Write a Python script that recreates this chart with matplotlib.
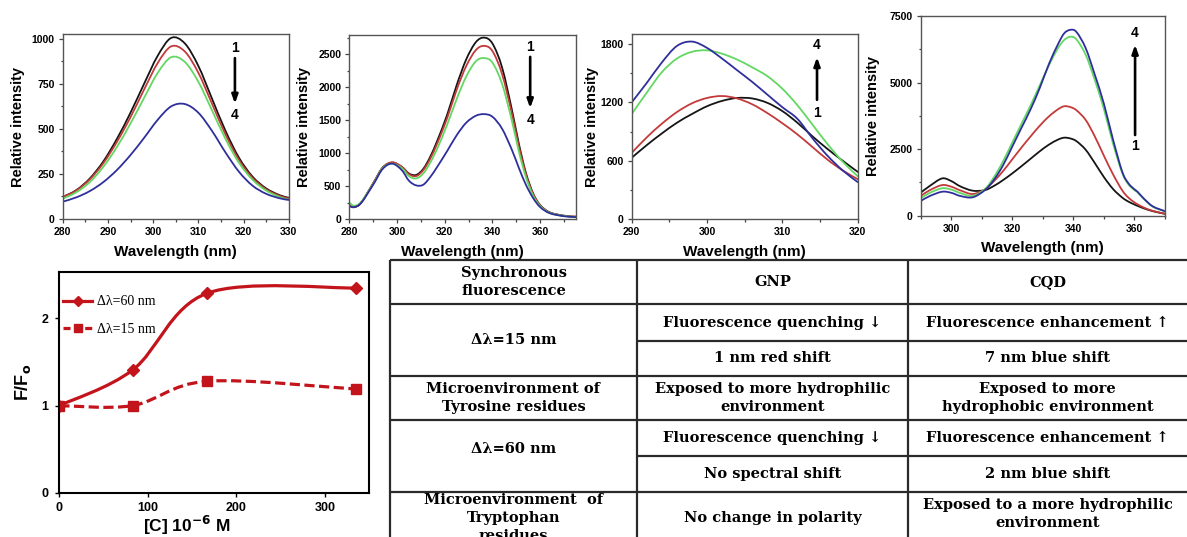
import numpy as np
import matplotlib
matplotlib.use("Agg")
import matplotlib.pyplot as plt
from matplotlib.path import Path
from matplotlib.patches import PathPatch
from matplotlib.lines import Line2D
from matplotlib.ticker import MultipleLocator

# ---------------- data ----------------
# Panel A: delta-lambda = 15 nm, GNP titration (curves 1 -> 4)
wl_a = [280, 283, 286, 289, 292, 295, 298, 301, 304, 307, 310, 313, 316, 319, 322, 325, 328, 330]
a1 = [122, 160, 225, 320, 445, 590, 750, 905, 1005, 975, 850, 670, 490, 340, 235, 170, 132, 118]
a2 = [122, 158, 220, 310, 428, 565, 718, 865, 958, 930, 812, 642, 470, 328, 228, 165, 128, 114]
a3 = [112, 148, 205, 290, 400, 530, 672, 810, 898, 872, 762, 605, 445, 312, 218, 158, 122, 108]
a4 = [96, 120, 155, 205, 272, 355, 450, 550, 625, 638, 590, 490, 370, 262, 185, 140, 115, 106]

# Panel B: delta-lambda = 60 nm, GNP titration
wl_b = [280, 282, 285, 290, 294, 298, 302, 305, 308, 311, 314, 317, 321, 325, 329, 333,
        336.5, 340, 344, 348, 351, 354, 357, 360, 364, 370, 375]
b1 = [212, 180, 250, 540, 780, 855, 790, 690, 668, 760, 950, 1200, 1580, 2030, 2420, 2680,
      2750, 2660, 2300, 1680, 1150, 700, 390, 210, 100, 50, 35]
b2 = [212, 180, 250, 540, 780, 860, 790, 680, 650, 740, 920, 1160, 1530, 1960, 2320, 2560,
      2625, 2545, 2200, 1620, 1110, 680, 380, 205, 98, 48, 35]
b3 = [250, 200, 260, 530, 770, 840, 770, 650, 615, 690, 860, 1080, 1430, 1820, 2160, 2390,
      2440, 2370, 2050, 1510, 1030, 635, 355, 195, 92, 45, 30]
b4 = [195, 180, 245, 520, 760, 840, 740, 580, 510, 520, 640, 800, 1030, 1270, 1460, 1565,
      1590, 1550, 1370, 1060, 780, 520, 320, 180, 88, 42, 30]

# Panel C: delta-lambda = 15 nm, CQD titration
wl_c = [290, 292, 294, 296, 298, 300, 302, 304, 306, 308, 310, 312, 314, 316, 318, 320]
c1 = [630, 760, 880, 990, 1080, 1160, 1215, 1245, 1240, 1195, 1110, 990, 850, 720, 600, 485]
c2 = [680, 840, 980, 1100, 1190, 1245, 1265, 1240, 1180, 1090, 985, 870, 740, 610, 500, 410]
c3 = [1080, 1300, 1510, 1650, 1720, 1735, 1700, 1640, 1560, 1470, 1340, 1170, 970, 770, 590, 440]
c4 = [1200, 1400, 1610, 1780, 1825, 1760, 1650, 1530, 1410, 1280, 1150, 1030, 830, 650, 500, 380]

# Panel D: delta-lambda = 60 nm, CQD titration
wl_d = [290, 293, 297, 300, 303, 307, 311, 314, 317, 320, 323, 326, 329, 332, 335, 337, 339,
        341, 344, 347, 350, 353, 356, 358, 360, 361, 363, 366, 370]
d1 = [864, 1120, 1400, 1300, 1100, 940, 960, 1120, 1340, 1590, 1860, 2140, 2420, 2670, 2860,
      2930, 2900, 2800, 2480, 1980, 1450, 1000, 680, 530, 420, 370, 280, 170, 70]
d2 = [740, 960, 1150, 1090, 950, 815, 990, 1300, 1680, 2120, 2560, 2980, 3380, 3730, 4000,
      4110, 4080, 3960, 3600, 2980, 2250, 1550, 950, 680, 500, 430, 310, 180, 75]
d3 = [653, 860, 1030, 980, 850, 740, 1000, 1450, 2050, 2750, 3450, 4150, 4900, 5650, 6300,
      6600, 6720, 6620, 6050, 5100, 4000, 2700, 1600, 1180, 960, 880, 640, 340, 160]
d4 = [552, 740, 900, 860, 740, 691, 960, 1350, 1900, 2600, 3300, 4000, 4800, 5700, 6450,
      6850, 6980, 6900, 6300, 5300, 4200, 2850, 1650, 1220, 990, 900, 650, 350, 170]

# F/F0 versus concentration
conc = [0, 83, 167, 335]
ratio_60 = [1.00, 1.41, 2.29, 2.35]
ratio_15 = [1.00, 1.00, 1.28, 1.19]
series_labels = ["\u0394\u03bb=60 nm", "\u0394\u03bb=15 nm"]

# Summary table
table_header = ["Synchronous\nfluorescence", "GNP", "CQD"]
row_15_label = "\u0394\u03bb=15 nm"
row_15_gnp = ["Fluorescence quenching \u2193", "1 nm red shift"]
row_15_cqd = ["Fluorescence enhancement \u2191", "7 nm blue shift"]
row_tyr = ["Microenvironment of\nTyrosine residues",
           "Exposed to more hydrophilic\nenvironment",
           "Exposed to more\nhydrophobic environment"]
row_60_label = "\u0394\u03bb=60 nm"
row_60_gnp = ["Fluorescence quenching \u2193", "No spectral shift"]
row_60_cqd = ["Fluorescence enhancement \u2191", "2 nm blue shift"]
row_trp = ["Microenvironment  of\nTryptophan\nresidues",
           "No change in polarity",
           "Exposed to a more hydrophilic\nenvironment"]

# ---------------- helpers ----------------
W, H = 1187, 537
fig = plt.figure(figsize=(W / 100, H / 100), dpi=100)

SANS = "Liberation Sans"
SPEC_COLORS = ["#151515", "#c43a3a", "#62d862", "#2f2f9c"]


def px_axes(l, t, r, b):
    return fig.add_axes([l / W, 1 - b / H, (r - l) / W, (b - t) / H])


def smooth_path(x, y):
    pts = np.column_stack([np.asarray(x, float), np.asarray(y, float)])
    ext = np.vstack([pts[0], pts, pts[-1]])
    verts = [pts[0]]
    codes = [Path.MOVETO]
    for i in range(len(pts) - 1):
        p0, p1, p2, p3 = ext[i], ext[i + 1], ext[i + 2], ext[i + 3]
        verts += [p1 + (p2 - p0) / 6.0, p2 - (p3 - p1) / 6.0, p2]
        codes += [Path.CURVE4] * 3
    return Path(verts, codes)


def style_axes(ax, xmaj, xmin, ymaj, ymin, lsize=7.5):
    ax.xaxis.set_major_locator(MultipleLocator(xmaj))
    ax.xaxis.set_minor_locator(MultipleLocator(xmin))
    ax.yaxis.set_major_locator(MultipleLocator(ymaj))
    ax.yaxis.set_minor_locator(MultipleLocator(ymin))
    ax.tick_params(which="both", direction="out", top=False, right=False,
                   color="#444444", width=0.9)
    ax.tick_params(which="major", length=3.2, pad=2.5)
    ax.tick_params(which="minor", length=1.8)
    for lab in ax.get_xticklabels() + ax.get_yticklabels():
        lab.set_fontfamily(SANS)
        lab.set_fontweight("bold")
        lab.set_fontsize(lsize)
    for sp in ax.spines.values():
        sp.set_color("#555555")
        sp.set_linewidth(1.0)


def spectra_panel(box, wl, curves, xlim, ylim, ticks, ylab_px, xlab_px,
                  arrow_x, labels_y, arrow_y):
    l, t, r, b = box
    ax = px_axes(l, t, r, b)
    for vals, col in zip(curves, SPEC_COLORS):
        ax.add_patch(PathPatch(smooth_path(wl, vals), fc="none", ec=col, lw=1.3,
                               joinstyle="round", capstyle="round"))
    ax.set_xlim(*xlim)
    ax.set_ylim(*ylim)
    style_axes(ax, *ticks)
    ax.set_xlabel("Wavelength (nm)", fontfamily=SANS, fontweight="bold",
                  fontsize=11, va="center")
    ax.set_ylabel("Relative intensity", fontfamily=SANS, fontweight="bold",
                  fontsize=10.5, va="center")
    ax.xaxis.set_label_coords(0.5, -(xlab_px - b) / (b - t))
    ax.yaxis.set_label_coords((ylab_px - l) / (r - l), 0.5)
    # titration direction arrow with curve numbers
    top_lab, bot_lab = labels_y
    ax.text(arrow_x, top_lab[1], top_lab[0], ha="center", va="center",
            fontfamily=SANS, fontweight="bold", fontsize=10)
    ax.text(arrow_x, bot_lab[1], bot_lab[0], ha="center", va="center",
            fontfamily=SANS, fontweight="bold", fontsize=10)
    ax.annotate("", xy=(arrow_x, arrow_y[1]), xytext=(arrow_x, arrow_y[0]),
                arrowprops=dict(arrowstyle="-|>,head_length=0.5,head_width=0.18",
                                lw=1.9, color="black", shrinkA=0, shrinkB=0))
    return ax


# ---------------- spectra ----------------
spectra_panel((62.7, 34.3, 288.7, 219), wl_a, [a1, a2, a3, a4], (280, 330), (0, 1025),
              (10, 5, 250, 125), 18, 252, 318.1, (("1", 948), ("4", 577)), (893, 640))
spectra_panel((349.3, 35, 576, 219), wl_b, [b1, b2, b3, b4], (280, 375), (0, 2790),
              (20, 10, 500, 250), 304, 252, 355.8, (("1", 2615), ("4", 1502)), (2458, 1680))
spectra_panel((631.7, 34.3, 857.7, 219), wl_c, [c1, c2, c3, c4], (290, 320), (0, 1900),
              (10, 5, 600, 300), 592, 252, 314.6, (("4", 1793), ("1", 1092)), (1226, 1665))
spectra_panel((920.7, 16, 1165, 215.7), wl_d, [d1, d2, d3, d4], (290, 370), (0, 7500),
              (20, 10, 2500, 1250), 873, 248, 360.2, (("4", 6861), ("1", 2617)), (3030, 6420))

# ---------------- F/F0 plot ----------------
RED = "#c3141c"
l, t, r, b = 59.3, 272.3, 369.3, 492.7
axf = px_axes(l, t, r, b)
axf.add_patch(PathPatch(smooth_path(conc, ratio_60), fc="none", ec=RED, lw=2.3))
axf.add_patch(PathPatch(smooth_path(conc, ratio_15), fc="none", ec=RED, lw=2.3,
                        linestyle=(0, (3.2, 1.4))))
axf.plot(conc, ratio_60, ls="none", marker="D", ms=6.5, color=RED, mec=RED)
axf.plot(conc, ratio_15, ls="none", marker="s", ms=6.5, color=RED, mec=RED)
axf.set_xlim(0, 350)
axf.set_ylim(0, 2.53)
axf.set_xticks([0, 100, 200, 300])
axf.set_yticks([0, 1, 2])
axf.tick_params(direction="out", length=3, width=1.0, color="black")
axf.tick_params(axis="x", pad=4)
axf.tick_params(axis="y", pad=5)
for lab in axf.get_xticklabels() + axf.get_yticklabels():
    lab.set_fontfamily(["Liberation Sans Narrow", SANS])
    lab.set_fontweight("bold")
    lab.set_fontsize(9)
for sp in axf.spines.values():
    sp.set_color("black")
    sp.set_linewidth(1.5)
axf.set_xlabel("[C] 10$^{\\mathbf{-6}}$ M", fontfamily=SANS, fontweight="bold",
               fontsize=12.5, va="center")
axf.xaxis.set_label_coords((187 - l) / (r - l), -(525 - b) / (b - t))
axf.set_ylabel("F/F$_\\mathbf{o}$", fontfamily=SANS, fontweight="bold",
               fontsize=13, va="center")
axf.yaxis.set_label_coords((23 - l) / (r - l), 0.5)
handles = [Line2D([], [], color=RED, lw=2.3, marker="D", ms=5),
           Line2D([], [], color=RED, lw=2.3, marker="s", ms=5.5, ls=(0, (2.2, 1.2)))]
axf.legend(handles, series_labels, loc="upper left", bbox_to_anchor=(0.012, 0.895),
           frameon=False, prop={"family": "Liberation Serif", "size": 10},
           handlelength=2.1, handletextpad=0.35, labelspacing=1.05,
           borderpad=0, borderaxespad=0)

# ---------------- summary table ----------------
axt = fig.add_axes([385 / W, 0, (W - 385) / W, (H - 255) / H])
axt.set_xlim(385, W)
axt.set_ylim(H, 255)
axt.axis("off")

col_x = [390, 637, 908, W]
row_y = [260, 304.3, 375.7, 420, 491.7, 548]
sub_y = [341, 456]
LC = "#2a2a2a"
for xv in col_x[:3]:
    axt.plot([xv, xv], [row_y[0], H], color=LC, lw=1.6, solid_capstyle="butt")
for yv in row_y[:5]:
    axt.plot([col_x[0], W], [yv, yv], color=LC, lw=1.6, solid_capstyle="butt")
for yv in sub_y:
    axt.plot([col_x[1], W], [yv, yv], color=LC, lw=1.6, solid_capstyle="butt")

TFONT = {"family": ["DejaVu Serif", "DejaVu Sans"], "weight": "bold", "size": 10.5}
PITCH = 17.5


def cell_text(text, col, yc):
    xc = (col_x[col] + col_x[col + 1]) / 2
    lines = text.split("\n")
    n = len(lines)
    for i, ln in enumerate(lines):
        yy = yc + (i - (n - 1) / 2) * PITCH
        axt.text(xc, yy, ln, ha="center", va="center", fontdict=TFONT, clip_on=True)


def mid(a, b):
    return (a + b) / 2

cell_text(table_header[0], 0, mid(row_y[0], row_y[1]))
cell_text(table_header[1], 1, mid(row_y[0], row_y[1]))
cell_text(table_header[2], 2, mid(row_y[0], row_y[1]))

cell_text(row_15_label, 0, mid(row_y[1], row_y[2]))
cell_text(row_15_gnp[0], 1, mid(row_y[1], sub_y[0]))
cell_text(row_15_gnp[1], 1, mid(sub_y[0], row_y[2]))
cell_text(row_15_cqd[0], 2, mid(row_y[1], sub_y[0]))
cell_text(row_15_cqd[1], 2, mid(sub_y[0], row_y[2]))

for c in range(3):
    cell_text(row_tyr[c], c, mid(row_y[2], row_y[3]))

cell_text(row_60_label, 0, mid(row_y[3], row_y[4]) - 7)
cell_text(row_60_gnp[0], 1, mid(row_y[3], sub_y[1]))
cell_text(row_60_gnp[1], 1, mid(sub_y[1], row_y[4]))
cell_text(row_60_cqd[0], 2, mid(row_y[3], sub_y[1]))
cell_text(row_60_cqd[1], 2, mid(sub_y[1], row_y[4]))

cell_text(row_trp[0], 0, 518)
cell_text(row_trp[1], 1, 518)
cell_text(row_trp[2], 2, 514)

fig.savefig("out.png", dpi=100)
